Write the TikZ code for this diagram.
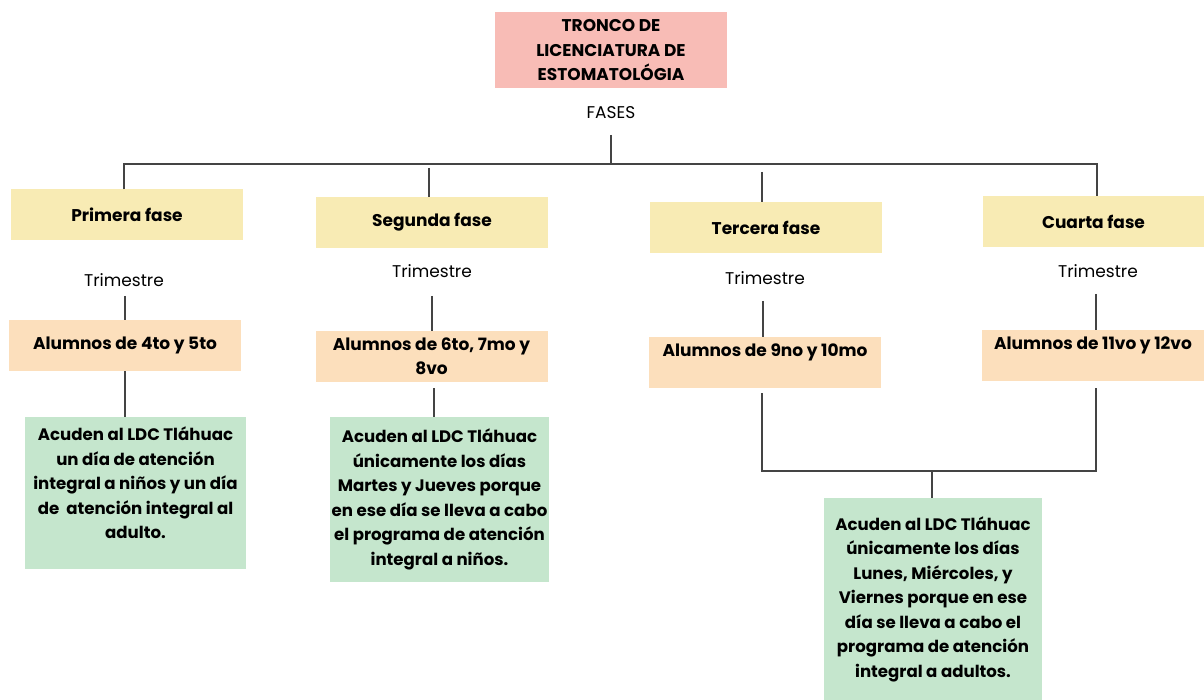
\documentclass[tikz,border=0pt]{standalone}
\usepackage{fontspec}
\setmainfont{Poppins}
\usetikzlibrary{calc}
\definecolor{titlecol}{HTML}{F8BCB6}
\definecolor{fasecol}{HTML}{F8EBB4}
\definecolor{alumcol}{HTML}{FCDFBC}
\definecolor{infocol}{HTML}{C5E6CD}
\definecolor{linecol}{HTML}{444444}
\begin{document}
\begin{tikzpicture}[x=1pt,y=-1pt,
  box/.style={draw=none, inner sep=0pt, align=center, font=\bfseries\fontsize{17}{24.5}\selectfont},
  titlebox/.style={box, fill=titlecol, minimum width=232pt, minimum height=76pt},
  fasebox/.style={box, fill=fasecol, minimum width=232pt, minimum height=51pt},
  alumbox/.style={box, fill=alumcol, minimum width=232pt, minimum height=51pt},
  infobox/.style={box, fill=infocol, font=\bfseries\fontsize{16.6}{24.5}\selectfont},
  plain/.style={inner sep=0pt, font=\fontsize{17}{20}\selectfont},
  conn/.style={draw=linecol, line width=1.2pt}]
\useasboundingbox (0,0) rectangle (1204,700);
\fill[white] (0,0) rectangle (1204,700);

% title
\node[titlebox] (t) at (611,50.5) {TRONCO DE\\LICENCIATURA DE\\ESTOMATOLÓGIA};
\node[plain] (fases) at (611,113) {FASES};

% phases
\node[fasebox] (f1) at (127,215) {Primera fase};
\node[fasebox] (f2) at (432,222.5) {Segunda fase};
\node[fasebox] (f3) at (766,228) {Tercera fase};
\node[fasebox, minimum width=221pt] (f4) at (1093.5,221.5) {Cuarta fase};

% trimestre labels
\node[plain] (tr1) at (124,280) {Trimestre};
\node[plain] (tr2) at (432,271) {Trimestre};
\node[plain] (tr3) at (765,278) {Trimestre};
\node[plain] (tr4) at (1098,271) {Trimestre};

% alumnos boxes
\node[alumbox] (a1) at (125,345.5) {Alumnos de 4to y 5to};
\node[alumbox, align=center] (a2) at (431.5,356.5) {Alumnos de 6to, 7mo y\\8vo};
\node[alumbox] (a3) at (765,362.5) {Alumnos de 9no y 10mo\\\mbox{}};
\node[alumbox, minimum width=222pt] (a4) at (1093,355.5) {Alumnos de 11vo y 12vo\\\mbox{}};

% info boxes
\node[infobox, minimum width=221pt, minimum height=152pt] (g1) at (135.5,493)
  {Acuden al LDC Tláhuac\\un día de atención\\integral a niños y un día\\de\ \ atención integral al\\adulto.\\[-4pt]\mbox{}};
\node[infobox, minimum width=219pt, minimum height=165pt] (g2) at (439.5,499.5)
  {Acuden al LDC Tláhuac\\únicamente los días\\Martes y Jueves porque\\en ese día se lleva a cabo\\el programa de atención\\integral a niños.};
\node[infobox, minimum width=218pt, minimum height=202pt] (g3) at (933,599)
  {Acuden al LDC Tláhuac\\únicamente los días\\Lunes, Miércoles, y\\Viernes porque en ese\\día se lleva a cabo el\\programa de atención\\integral a adultos.};

% connector coordinates
\coordinate (hub) at (611,164);
\coordinate (h1) at (124,164);
\coordinate (h4) at (1097,164);
\coordinate (j3) at (762,471);
\coordinate (j4) at (1096,471);
\coordinate (jm) at (932,471);

% top tree
\draw[conn] (611,135) coordinate (fs) -- (hub);
\draw[conn] (h1 |- f1.north) -- (h1) -- (h4) -- (h4 |- f4.north);
\draw[conn] (429,168) coordinate (d2) -- (d2 |- f2.north);
\draw[conn] (762,172) coordinate (d3) -- (d3 |- f3.north);

% trimestre to alumnos
\draw[conn] (125,296) coordinate (e1) -- (e1 |- a1.north);
\draw[conn] (432,296) coordinate (e2) -- (e2 |- a2.north);
\draw[conn] (763,301) coordinate (e3) -- (e3 |- a3.north);
\draw[conn] (1096,294) coordinate (e4) -- (e4 |- a4.north);

% alumnos to info
\draw[conn] (125,371) coordinate (k1) -- (k1 |- g1.north);
\draw[conn] (434,388) coordinate (k2) -- (k2 |- g2.north);
\draw[conn] (762,393) coordinate (k3) -- (j3) -- (j4) -- (1096,388) coordinate (k4);
\draw[conn] (jm) -- (jm |- g3.north);
\end{tikzpicture}
\end{document}
